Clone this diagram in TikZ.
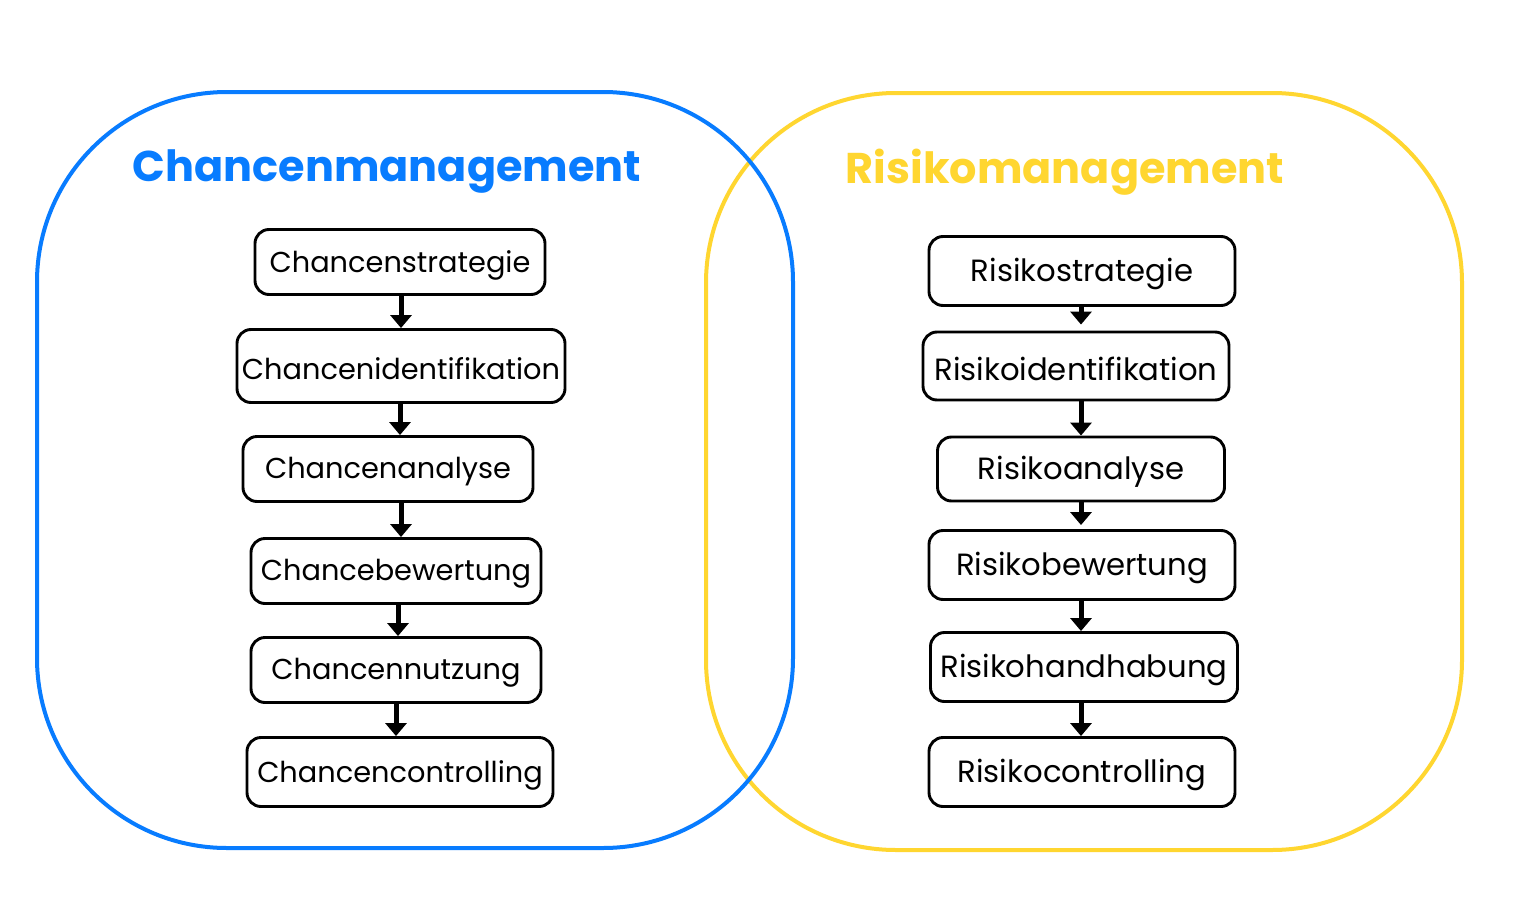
\documentclass[tikz,border=0pt]{standalone}
\usepackage{fontspec}
\setmainfont{Poppins}
\usetikzlibrary{arrows.meta}
\definecolor{cblue}{RGB}{8,124,255}
\definecolor{cyellow}{RGB}{255,214,48}
\newcommand\boxlbl[1]{\raisebox{-3pt}[\height][\depth]{#1}}
\tikzset{
  stepbox/.style={draw=black, line width=2.9pt, rounded corners=14pt, inner sep=0pt, font=\fontsize{28.8}{32}\selectfont},
  rstepbox/.style={stepbox, font=\fontsize{30.7}{34}\selectfont},
  flow/.style={line width=5pt, -{Triangle[width=21pt,length=13pt]}},
  bigframe/.style={line width=4pt, rounded corners=190pt},
  title/.style={font=\fontsize{43}{50}\selectfont\bfseries}
}
\begin{document}
\begin{tikzpicture}[x=1pt,y=-1pt]
\useasboundingbox (0,0) rectangle (1514,899);
\fill[white] (0,0) rectangle (1514,899);
\draw[bigframe, cyellow] (706,93) rectangle (1462,850);
\draw[bigframe, cblue] (37,92) rectangle (793,848);
\node[title, text=cblue] (tc) at (387,172) {Chancenmanagement};
\node[title, text=cyellow] (tr) at (1065,172) {Risikomanagement};

% left column
\node[stepbox, minimum width=290pt, minimum height=65pt] (c1) at (400,262) {\boxlbl{Chancenstrategie}};
\node[stepbox, minimum width=328pt, minimum height=73pt] (c2) at (401,366) {\boxlbl{Chancenidentifikation}};
\node[stepbox, minimum width=290pt, minimum height=65pt] (c3) at (388,469) {\boxlbl{Chancenanalyse}};
\node[stepbox, minimum width=290pt, minimum height=65pt] (c4) at (396,571) {\boxlbl{Chancebewertung}};
\node[stepbox, minimum width=290pt, minimum height=65pt] (c5) at (396,670) {\boxlbl{Chancennutzung}};
\node[stepbox, minimum width=306pt, minimum height=69pt] (c6) at (400,772) {\boxlbl{Chancencontrolling}};

% right column
\node[rstepbox, minimum width=306pt, minimum height=69pt] (r1) at (1082,271) {\boxlbl{Risikostrategie}};
\node[rstepbox, minimum width=306pt, minimum height=68pt] (r2) at (1076,366) {\boxlbl{Risikoidentifikation}};
\node[rstepbox, minimum width=287pt, minimum height=64pt] (r3) at (1081,469) {\boxlbl{Risikoanalyse}};
\node[rstepbox, minimum width=306pt, minimum height=69pt] (r4) at (1082,565) {\boxlbl{Risikobewertung}};
\node[rstepbox, minimum width=307pt, minimum height=69pt] (r5) at (1084,667) {\boxlbl{Risikohandhabung}};
\node[rstepbox, minimum width=306pt, minimum height=69pt] (r6) at (1082,772) {\boxlbl{Risikocontrolling}};

\coordinate (lx1) at (401,0);
\coordinate (lx2) at (400,0);
\coordinate (lx3) at (401,0);
\coordinate (lx4) at (398,0);
\coordinate (lx5) at (396,0);
\coordinate (rx) at (1081,0);

\draw[flow] (c1.south -| lx1) -- (c2.north -| lx1);
\draw[flow] (c2.south -| lx2) -- (c3.north -| lx2);
\draw[flow] (c3.south -| lx3) -- (c4.north -| lx3);
\draw[flow] (c4.south -| lx4) -- (c5.north -| lx4);
\draw[flow] (c5.south -| lx5) -- (c6.north -| lx5);

\draw[flow] (r1.south -| rx) -- ([yshift=6pt]r2.north -| rx);
\draw[flow] (r2.south -| rx) -- (r3.north -| rx);
\draw[flow] (r3.south -| rx) -- ([yshift=4pt]r4.north -| rx);
\draw[flow] (r4.south -| rx) -- (r5.north -| rx);
\draw[flow] (r5.south -| rx) -- (r6.north -| rx);
\end{tikzpicture}
\end{document}
